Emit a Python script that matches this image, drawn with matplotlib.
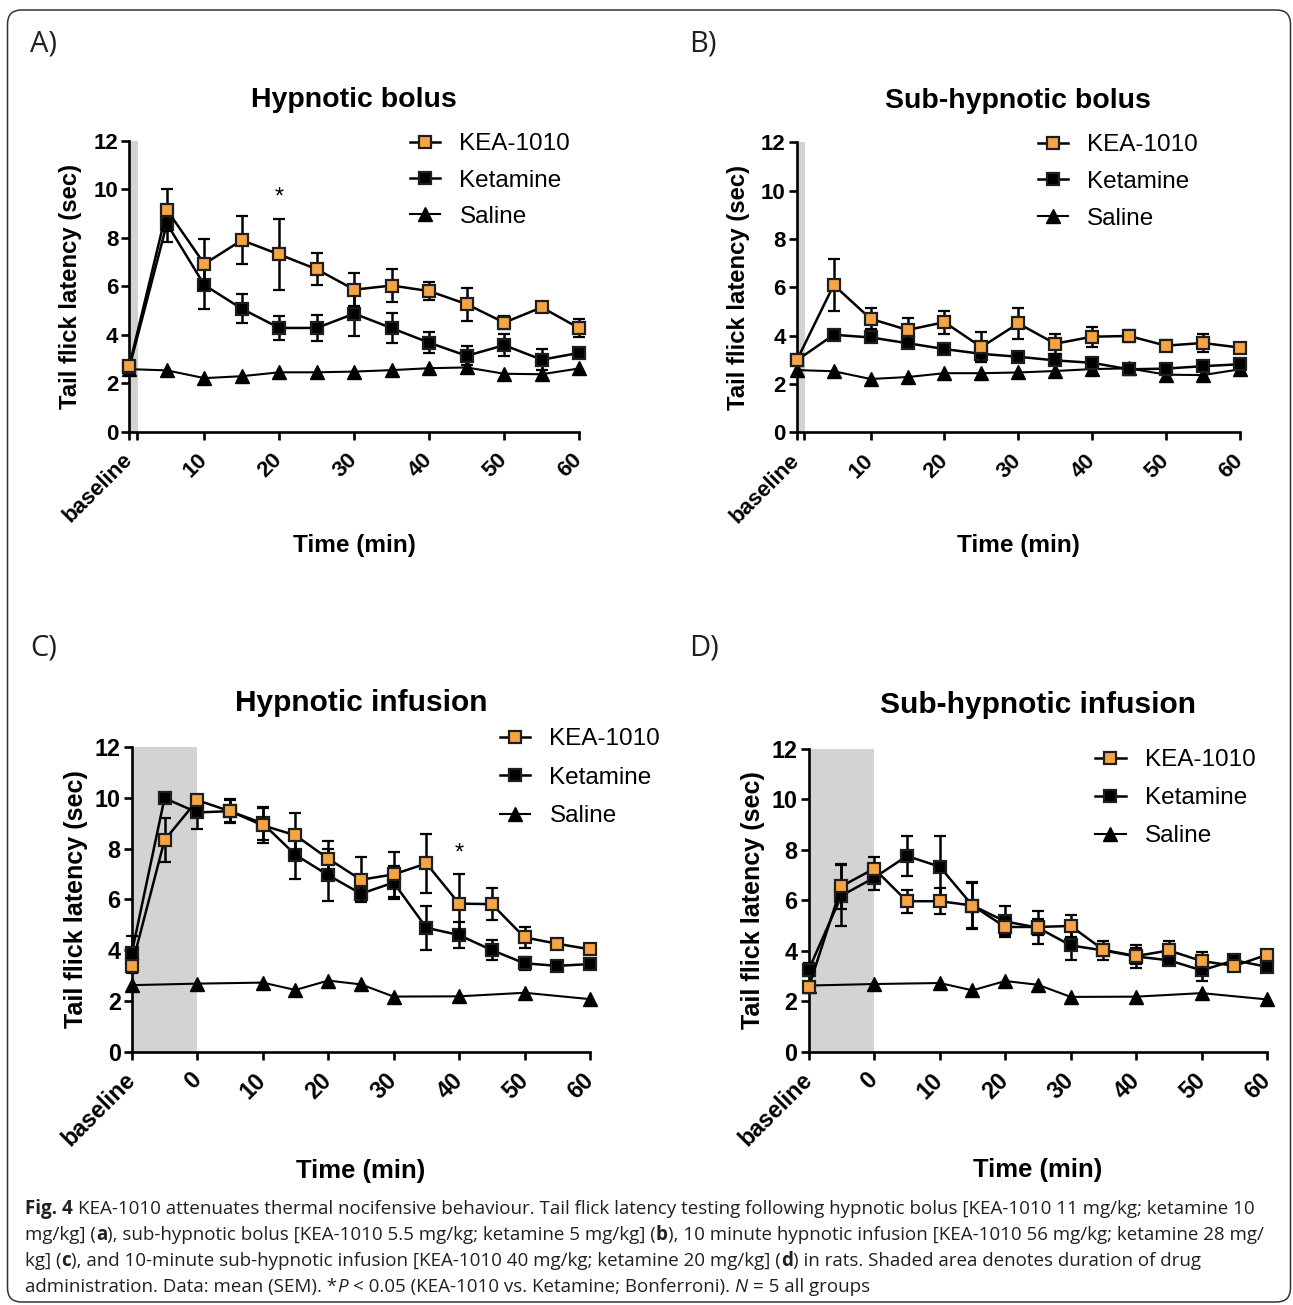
import matplotlib
matplotlib.use('Agg')
import matplotlib.pyplot as plt
from matplotlib.lines import Line2D
from matplotlib.patches import FancyBboxPatch
from matplotlib.transforms import IdentityTransform

# ---- data ----
t_bolus = [0, 5, 10, 15, 20, 25, 30, 35, 40, 45, 50, 55, 60]
bolus_labels = ['baseline', '10', '20', '30', '40', '50', '60']
bolus_ticks = [0, 10, 20, 30, 40, 50, 60]

saline_bolus = [2.58, 2.53, 2.21, 2.29, 2.45, 2.45, 2.48, 2.54, 2.62, 2.65, 2.39, 2.37, 2.61]

a_kea = [2.73, 9.15, 6.92, 7.90, 7.31, 6.70, 5.86, 6.03, 5.80, 5.26, 4.50, 5.13, 4.27]
a_kea_sem = [0.10, 0.88, 1.03, 0.99, 1.47, 0.66, 0.68, 0.70, 0.38, 0.68, 0.27, 0.12, 0.36]
a_ket = [2.65, 8.58, 6.05, 5.07, 4.28, 4.28, 4.87, 4.27, 3.67, 3.13, 3.57, 2.97, 3.25]
a_ket_sem = [0.10, 0.76, 1.00, 0.60, 0.49, 0.52, 0.92, 0.63, 0.44, 0.39, 0.46, 0.44, 0.12]

b_kea = [2.98, 6.10, 4.70, 4.24, 4.56, 3.53, 4.51, 3.67, 3.96, 3.99, 3.59, 3.70, 3.51]
b_kea_sem = [0.10, 1.06, 0.43, 0.48, 0.47, 0.62, 0.63, 0.41, 0.42, 0.25, 0.24, 0.38, 0.10]
b_ket = [2.98, 4.04, 3.93, 3.69, 3.45, 3.25, 3.13, 2.98, 2.88, 2.61, 2.64, 2.74, 2.82]
b_ket_sem = [0.10, 0.10, 0.20, 0.10, 0.10, 0.32, 0.10, 0.20, 0.10, 0.10, 0.10, 0.10, 0.10]

t_inf = [-10, -5, 0, 5, 10, 15, 20, 25, 30, 35, 40, 45, 50, 55, 60]
inf_ticks = [-10, 0, 10, 20, 30, 40, 50, 60]
inf_labels = ['baseline', '0', '10', '20', '30', '40', '50', '60']

t_inf_saline = [-10, 0, 10, 15, 20, 25, 30, 40, 50, 60]
saline_inf = [2.62, 2.68, 2.72, 2.43, 2.80, 2.65, 2.17, 2.18, 2.32, 2.07]

c_kea = [3.38, 8.33, 9.90, 9.47, 8.91, 8.52, 7.60, 6.77, 6.98, 7.41, 5.83, 5.81, 4.50, 4.25, 4.03]
c_kea_sem = [0.30, 0.87, 0.20, 0.43, 0.69, 0.87, 0.70, 0.88, 0.87, 1.18, 1.15, 0.63, 0.41, 0.10, 0.10]
c_ket = [3.89, 9.98, 9.42, 9.47, 8.99, 7.75, 6.95, 6.22, 6.66, 4.88, 4.59, 4.00, 3.48, 3.38, 3.45]
c_ket_sem = [0.68, 0.10, 0.65, 0.46, 0.66, 0.95, 1.02, 0.29, 0.66, 0.86, 0.50, 0.40, 0.25, 0.10, 0.10]

d_kea = [2.55, 6.55, 7.25, 5.96, 5.96, 5.79, 4.94, 4.94, 4.98, 4.03, 3.79, 4.01, 3.59, 3.40, 3.84]
d_kea_sem = [0.10, 0.88, 0.47, 0.45, 0.52, 0.95, 0.30, 0.30, 0.44, 0.20, 0.30, 0.39, 0.37, 0.20, 0.20]
d_ket = [3.25, 6.18, 6.89, 7.75, 7.33, 5.79, 5.16, 4.91, 4.21, 4.01, 3.77, 3.62, 3.22, 3.62, 3.36]
d_ket_sem = [0.25, 1.20, 0.49, 0.81, 1.20, 0.90, 0.63, 0.65, 0.59, 0.39, 0.45, 0.10, 0.42, 0.10, 0.10]

series_names = ['KEA-1010', 'Ketamine', 'Saline']

caption_lines = [
    [('Fig. 4', 'bold', 'normal'),
     (' KEA-1010 attenuates thermal nocifensive behaviour. Tail flick latency testing following '
      'hypnotic bolus [KEA-1010 11 mg/kg; ketamine 10', 'normal', 'normal')],
    [('mg/kg] (', 'normal', 'normal'), ('a', 'bold', 'normal'),
     ('), sub-hypnotic bolus [KEA-1010 5.5 mg/kg; ketamine 5 mg/kg] (', 'normal', 'normal'),
     ('b', 'bold', 'normal'),
     ('), 10 minute hypnotic infusion [KEA-1010 56 mg/kg; ketamine 28 mg/', 'normal', 'normal')],
    [('kg] (', 'normal', 'normal'), ('c', 'bold', 'normal'),
     ('), and 10-minute sub-hypnotic infusion [KEA-1010 40 mg/kg; ketamine 20 mg/kg] (', 'normal', 'normal'),
     ('d', 'bold', 'normal'),
     (') in rats. Shaded area denotes duration of drug', 'normal', 'normal')],
    [('administration. Data: mean (SEM). *', 'normal', 'normal'), ('P', 'normal', 'italic'),
     (' < 0.05 (KEA-1010 vs. Ketamine; Bonferroni). ', 'normal', 'normal'),
     ('N', 'normal', 'italic'), (' = 5 all groups', 'normal', 'normal')],
]

# ---- figure ----
W, H = 1293, 1305
plt.rcParams['font.family'] = ['Liberation Sans', 'DejaVu Sans']
fig = plt.figure(figsize=(W / 100, H / 100), dpi=100)

ORANGE = '#f8a444'
EDGE = '#1e1e1e'


def fx(px):
    return px / W


def fy(py):
    return 1 - py / H


def panel(box, title, t, kea, kea_sem, ket, ket_sem, t_sal, sal, xlim, ticks, labels,
          shade, brk, leg_xy, lspace, tpad, ylab_x, k=1.0, star=None):
    x0, y0, x1, y1 = box
    ax = fig.add_axes([fx(x0), fy(y1), (x1 - x0) / W, (y1 - y0) / H])
    ax.axvspan(shade[0], shade[1], color='#d3d3d3', lw=0, zorder=0)

    ax.plot(t_sal, sal, color='k', lw=1.5, marker='^', ms=9.5, mec='k',
            clip_on=False, zorder=3)
    for y, e, fc, z in ((ket, ket_sem, 'k', 4), (kea, kea_sem, ORANGE, 5)):
        cont = ax.errorbar(t, y, yerr=e, color='k', lw=1.8, marker='s', ms=8,
                           mfc=fc, mec=EDGE, mew=1.6, capsize=4, capthick=1.8,
                           elinewidth=1.8, zorder=z)
        for art in cont.get_children():
            art.set_clip_on(False)

    ax.set_xlim(xlim)
    ax.set_ylim(0, 12)
    ax.set_yticks(range(0, 13, 2))
    ax.set_xticks(ticks)
    ax.set_xticklabels(labels, rotation=45, ha='right', va='center',
                       rotation_mode='anchor')
    if brk is not None:
        ax.set_xticks([brk], minor=True)
    for s in ('top', 'right'):
        ax.spines[s].set_visible(False)
    for s in ('left', 'bottom'):
        ax.spines[s].set_linewidth(1.9)
    ax.tick_params(which='both', width=1.9, length=6, direction='out', labelsize=16 * k)
    ax.tick_params(axis='x', pad=12)
    ax.tick_params(axis='y', pad=2)
    for lbl in ax.get_xticklabels() + ax.get_yticklabels():
        lbl.set_fontweight('bold')

    ax.set_title(title, fontsize=20.5 * k, fontweight='bold', pad=tpad)
    ax.set_ylabel('Tail flick latency (sec)', fontsize=17.2 * k, fontweight='bold')
    ax.yaxis.set_label_coords(ylab_x, 0.5)
    ax.set_xlabel('Time (min)', fontsize=17.6 * k, fontweight='bold')
    ax.xaxis.set_label_coords(0.5, -0.352)

    handles = [
        Line2D([], [], color='k', lw=1.8, marker='s', ms=8, mfc=ORANGE, mec=EDGE, mew=1.6),
        Line2D([], [], color='k', lw=1.8, marker='s', ms=8, mfc='k', mec=EDGE, mew=1.6),
        Line2D([], [], color='k', lw=1.5, marker='^', ms=9.5, mfc='k', mec='k'),
    ]
    ax.legend(handles, series_names, loc='upper left',
              bbox_to_anchor=(fx(leg_xy[0]), fy(leg_xy[1])),
              bbox_transform=fig.transFigure, frameon=False, fontsize=17.5,
              handlelength=1.26, handletextpad=0.79, labelspacing=lspace,
              borderpad=0, borderaxespad=0)

    if star is not None:
        ax.text(star[0], star[1], '*', fontsize=17, ha='center', va='center')
    return ax


panel((129.4, 140.8, 579.2, 431.7), 'Hypnotic bolus', t_bolus, a_kea, a_kea_sem,
      a_ket, a_ket_sem, t_bolus, saline_bolus, (0, 60), bolus_ticks, bolus_labels,
      (0, 1.1), 1.0, (409.6, 133.4), 0.58, 24.3, -0.106, star=(20, 9.65))

panel((796.8, 142.4, 1239.7, 432.4), 'Sub-hypnotic bolus', t_bolus, b_kea, b_kea_sem,
      b_ket, b_ket_sem, t_bolus, saline_bolus, (0, 60), bolus_ticks, bolus_labels,
      (0, 1.1), 1.0, (1037.5, 134), 0.61, 24.7, -0.106)

panel((131.8, 746.9, 590.0, 1051.7), 'Hypnotic infusion', t_inf, c_kea, c_kea_sem,
      c_ket, c_ket_sem, t_inf_saline, saline_inf, (-10, 60), inf_ticks, inf_labels,
      (-10, 0), None, (499.6, 728.2), 0.68, 26, -0.095, k=1.05, star=(40, 7.82))

panel((808.7, 748.7, 1267.2, 1051.7), 'Sub-hypnotic infusion', t_inf, d_kea, d_kea_sem,
      d_ket, d_ket_sem, t_inf_saline, saline_inf, (-10, 60), inf_ticks, inf_labels,
      (-10, 0), None, (1095, 749.2), 0.66, 26, -0.096, k=1.05)

# panel letters
for letter, px, py in (('A)', 30, 51), ('B)', 689, 51), ('C)', 30, 655), ('D)', 689, 655)):
    fig.text(fx(px), fy(py), letter, fontsize=21, family='Open Sans', color='#231f20',
             ha='left', va='baseline')

# rounded frame
frame = FancyBboxPatch((7.5, H - 1302), 1283, 1292,
                       boxstyle='round,pad=0,rounding_size=14',
                       transform=IdentityTransform(), fc='none', ec='#333333', lw=1.1)
fig.add_artist(frame)

# caption, drawn piece by piece so bold / italic parts sit inline
renderer = fig.canvas.get_renderer()
cap_font = 'Open Sans'


def text_width(s, size, weight='normal', style='normal'):
    t = fig.text(0, 0, s, fontsize=size, family=cap_font, fontweight=weight,
                 fontstyle=style, transform=IdentityTransform())
    w = t.get_window_extent(renderer).width
    t.remove()
    return w


def line_width(segs, size):
    sp = text_width('x x', size) - text_width('xx', size)
    total = 0
    for s, wt, st in segs:
        core = s.strip(' ')
        n_sp = len(s) - len(core)
        total += sp * n_sp + (text_width(core, size, wt, st) if core else 0)
    return total


cap_size = 12 * (1247 - 25) / line_width(caption_lines[0], 12)
space_w = text_width('x x', cap_size) - text_width('xx', cap_size)
baselines = [1214, 1240.5, 1266, 1292]
for segs, base in zip(caption_lines, baselines):
    x = 25
    for s, wt, st in segs:
        lead = len(s) - len(s.lstrip(' '))
        trail = len(s) - len(s.rstrip(' '))
        core = s.strip(' ')
        x += lead * space_w
        if core:
            t = fig.text(x, H - base, core, fontsize=cap_size, family=cap_font,
                         fontweight=wt, fontstyle=st, color='#231f20',
                         transform=IdentityTransform(), ha='left', va='baseline')
            x += t.get_window_extent(renderer).width
        x += trail * space_w

fig.savefig('out.png', dpi=100)
